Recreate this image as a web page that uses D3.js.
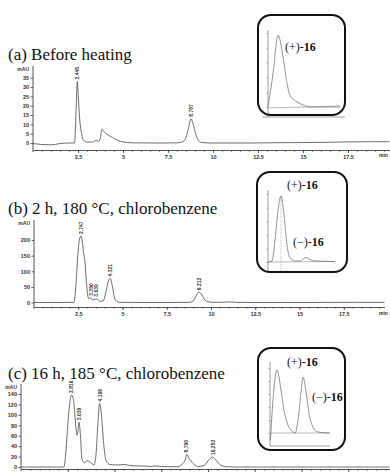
<!DOCTYPE html>
<html><head><meta charset="utf-8">
<script src="https://cdn.jsdelivr.net/npm/d3@7"></script>
<style>body{margin:0;background:#fff}svg{display:block}</style>
</head><body>
<svg id="chart"></svg>
<script>
// ---------- data ----------
const titles = ["(a) Before heating", "(b) 2 h, 180 °C, chlorobenzene", "(c) 16 h, 185 °C, chlorobenzene"];
const xTickValues = [2.5, 5, 7.5, 10, 12.5, 15, 17.5];
const xTickLabels = ["2.5", "5", "7.5", "10", "12.5", "15", "17.5"];
const yTicksA = [0, 5, 10, 15, 20, 25, 30, 35];
const yTicksB = [0, 50, 100, 150, 200];
const yTicksC = [0, 20, 40, 60, 80, 100, 120, 140];
const unitLabel = "mAU";
const timeUnit = "min";

// chromatogram traces: [time (min), signal (mAU)]
const traceA = [[0,-0.3],[0.5,-0.8],[1.0,-1.0],[1.5,-0.3],[2.0,0],[2.3,0],[2.36,8],[2.41,22],[2.46,33],[2.52,24],[2.6,12],[2.7,5],[2.83,1.2],[3.0,0.5],[3.3,0.5],[3.5,1.5],[3.65,0.8],[3.75,3],[3.82,7.3],[3.9,6.5],[4.1,4.8],[4.4,3],[4.7,1.5],[5.0,0.6],[5.5,0.1],[7.0,0],[8.0,0.1],[8.3,0.6],[8.5,3],[8.65,8.5],[8.78,13],[8.9,10],[9.05,4.5],[9.2,1.2],[9.35,0.3],[10.0,0],[12.0,0],[14.0,0.2],[16.0,0.3],[17.5,0.6],[19.0,0.7],[19.8,0.7]];
const traceB = [[0,0],[1,0],[2,0],[2.25,0.5],[2.35,40],[2.45,130],[2.55,195],[2.65,213],[2.72,200],[2.8,160],[2.88,130],[2.95,75],[3.03,25],[3.1,12],[3.2,15],[3.3,8],[3.42,10],[3.52,12],[3.62,8],[3.75,3],[3.9,5],[4.05,30],[4.18,65],[4.3,77],[4.42,55],[4.55,15],[4.7,3],[4.9,0.5],[6,0],[8,0],[8.8,0.5],[9.0,5],[9.15,20],[9.3,33],[9.45,28],[9.6,12],[9.8,3],[10.1,0.5],[10.6,0.5],[11.0,2],[11.4,0.5],[12,0],[14,0],[16,0],[18,0.5],[19.8,0.5]];
const traceC = [[0,0],[1,0],[2,0],[2.3,0],[2.4,30],[2.5,80],[2.6,120],[2.7,138],[2.8,130],[2.88,100],[2.95,70],[3.0,61],[3.05,70],[3.1,86],[3.18,60],[3.26,15],[3.4,8],[3.52,12],[3.65,11],[3.8,6],[3.9,4],[4.0,20],[4.1,75],[4.2,122],[4.3,100],[4.42,45],[4.55,12],[4.75,5],[5.0,4],[5.3,4],[5.5,5],[5.8,3],[6.3,2],[6.6,2],[6.9,1],[7.2,2],[7.5,1],[8.0,0.5],[8.4,0.5],[8.6,5],[8.8,15],[8.85,24],[9.0,16],[9.25,5],[9.5,1],[9.8,3],[10.05,14],[10.25,19],[10.45,12],[10.7,3],[11.0,0.5],[11.5,0],[13,0],[15,0],[17,0],[19.7,0]];

const peakLabelsA = ["2.445", "8.787"];
const peakTimesA = [2.46, 8.78];
const peakLabelsB = ["2.747", "3.350", "3.639", "4.321", "9.212"];
const peakTimesB = [2.65, 3.2, 3.52, 4.3, 9.3];
const peakLabelsC = ["2.816", "3.039", "4.196", "8.790", "10.253"];
const peakTimesC = [2.7, 3.1, 4.2, 8.85, 10.25];

// inset traces (relative time, relative signal %)
const insetTraceA = [[0,0],[0.65,45],[1.3,97],[1.95,68],[2.47,32],[2.86,16],[3.77,6.8],[4.55,2.7],[5.45,0],[9.4,0]];
const insetTraceB = [[0,0],[0.52,1.5],[0.91,32],[1.3,76],[1.69,97],[2.08,69],[2.47,25],[2.86,6],[3.5,1.5],[4.16,1.5],[4.55,4.4],[4.94,6.6],[5.45,3.7],[6.1,1.5],[8.7,0.7]];
const insetTraceC = [[0.06,-11],[0.39,51],[0.91,97],[1.43,66],[1.82,35],[2.34,12],[2.86,3],[3.25,0],[3.64,20],[4.03,63],[4.29,86],[4.68,63],[5.06,31],[5.58,9],[6.23,1.5],[7.79,0]];
const insetLabelsA = [["(+)-", "16"]];
const insetLabelsB = [["(+)-", "16"], ["(\u2212)-", "16"]];
const insetLabelsC = [["(+)-", "16"], ["(\u2212)-", "16"]];

// ---------- drawing ----------
const W = 390, H = 473;
const svg = d3.select("#chart").attr("width", W).attr("height", H);
svg.append("rect").attr("width", W).attr("height", H).attr("fill", "#fff");
const ink = "#3c3c3c", trace = "#484848";
const serif = "'Liberation Serif','Times New Roman',serif";
const sans = "'Liberation Sans',Arial,sans-serif";

const panels = [
  {title: titles[0], titleY: 60, data: traceA, x0: 33, pxPerMin: 18, tMax: 19.8, yTicks: yTicksA, yMax: 35, yZero: 143, yTopTick: 77.7,
   axisY: 150, axisTop: 66, mauY: 71, xLabels: true, xLabelY: 157, labels: peakLabelsA, times: peakTimesA},
  {title: titles[1], titleY: 214, data: traceB, x0: 34, pxPerMin: 17.7, tMax: 19.8, yTicks: yTicksB, yMax: 200, yZero: 302.5, yTopTick: 240,
   axisY: 307, axisTop: 220, mauY: 225, xLabels: true, xLabelY: 315, labels: peakLabelsB, times: peakTimesB},
  {title: titles[2], titleY: 379, data: traceC, x0: 21, pxPerMin: 18.7, tMax: 19.7, yTicks: yTicksC, yMax: 140, yZero: 467, yTopTick: 394,
   axisY: 469, axisTop: 384, mauY: 389, xLabels: false, xLabelY: 480, labels: peakLabelsC, times: peakTimesC}
];

panels.forEach(p => {
  const g = svg.append("g");
  const x = d3.scaleLinear().domain([0, p.tMax]).range([p.x0, p.x0 + p.pxPerMin * p.tMax]);
  const y = d3.scaleLinear().domain([0, p.yMax]).range([p.yZero, p.yTopTick]);

  g.append("text").attr("x", 8).attr("y", p.titleY).attr("font-family", serif).attr("font-size", 17)
    .attr("fill", "#111").text(p.title);

  // y axis
  const ya = g.append("g").attr("transform", `translate(${p.x0},0)`)
    .call(d3.axisLeft(y).tickValues(p.yTicks).tickSize(2.5).tickPadding(1.5).tickSizeOuter(0));
  ya.select(".domain").remove();
  ya.selectAll("line").attr("stroke", ink).attr("stroke-width", 0.8);
  ya.selectAll("text").attr("font-family", sans).attr("font-size", 5.5).attr("font-weight", "bold").attr("fill", "#333");
  g.append("line").attr("x1", p.x0).attr("x2", p.x0).attr("y1", p.axisTop).attr("y2", p.axisY + 2)
    .attr("stroke", ink).attr("stroke-width", 0.9);
  g.append("text").attr("x", p.x0 - 4).attr("y", p.mauY).attr("text-anchor", "end").attr("font-family", sans)
    .attr("font-size", 5).attr("font-weight", "bold").attr("fill", "#333").text(unitLabel);

  // x axis
  const xa = g.append("g").attr("transform", `translate(0,${p.axisY})`)
    .call(d3.axisBottom(x).tickValues(xTickValues).tickFormat((d, i) => p.xLabels ? xTickLabels[i] : "").tickSize(3).tickPadding(2).tickSizeOuter(0));
  xa.select(".domain").attr("stroke", ink).attr("stroke-width", 0.9);
  xa.selectAll("line").attr("stroke", ink).attr("stroke-width", 0.8);
  xa.selectAll("text").attr("font-family", sans).attr("font-size", 5.5).attr("font-weight", "bold").attr("fill", "#333");
  const minor = g.append("g").attr("transform", `translate(0,${p.axisY})`)
    .call(d3.axisBottom(x).tickValues(d3.range(0.5, p.tMax, 0.5)).tickFormat("").tickSize(1.8).tickSizeOuter(0));
  minor.select(".domain").remove();
  minor.selectAll("line").attr("stroke", ink).attr("stroke-width", 0.6);
  if (p.xLabels) {
    g.append("text").attr("x", 379).attr("y", p.xLabelY).attr("font-family", sans).attr("font-size", 5)
      .attr("font-weight", "bold").attr("fill", "#333").text(timeUnit);
  }

  // trace
  const line = d3.line().x(d => x(d[0])).y(d => y(d[1])).curve(d3.curveMonotoneX);
  g.append("path").datum(p.data).attr("d", line).attr("fill", "none").attr("stroke", trace).attr("stroke-width", 0.8);

  // peak labels
  p.labels.forEach((lab, i) => {
    const t = p.times[i];
    const near = p.data.filter(d => Math.abs(d[0] - t) < 0.12);
    const v = d3.max(near, d => d[1]);
    const px = x(t) + 2, py = y(v) - 2;
    g.append("text").attr("transform", `translate(${px},${py}) rotate(-90)`).attr("font-family", sans)
      .attr("font-size", 5).attr("font-weight", "bold").attr("fill", "#333").text(lab);
  });
});

// insets
const insets = [
  {box: [258, 15, 87, 100], data: insetTraceA, xr: [268, 345], yr: [107, 33], yAxis: [268, 30, 117], xAxis: [117, 262, 345],
   base: [268, 108, 340, 106], labels: insetLabelsA, labelPos: [[285, 51]]},
  {box: [257, 172, 90, 100], data: insetTraceB, xr: [268, 345], yr: [262, 194], yAxis: [268, 190, 272], xAxis: null,
   base: [268, 262, 335, 261.5], labels: insetLabelsB, labelPos: [[287, 189], [293, 246]], dotted: [1.69]},
  {box: [258, 348, 87, 102], data: insetTraceC, xr: [270, 347], yr: [433, 368], yAxis: [270, 362, 446], xAxis: [446, 270, 330],
   base: [270, 433, 330, 433], labels: insetLabelsC, labelPos: [[287, 366], [312, 401]]}
];
insets.forEach(s => {
  const g = svg.append("g");
  const x = d3.scaleLinear().domain([0, 10]).range(s.xr);
  const y = d3.scaleLinear().domain([0, 100]).range(s.yr);
  g.append("line").attr("x1", s.yAxis[0]).attr("x2", s.yAxis[0]).attr("y1", s.yAxis[1]).attr("y2", s.yAxis[2])
    .attr("stroke", "#777").attr("stroke-width", 0.7);
  const yt = g.append("g").attr("transform", `translate(${s.yAxis[0]},0)`)
    .call(d3.axisLeft(y).ticks(6).tickFormat("").tickSize(1.5).tickSizeOuter(0));
  yt.select(".domain").remove();
  yt.selectAll("line").attr("stroke", "#777").attr("stroke-width", 0.6);
  if (s.xAxis) {
    g.append("line").attr("x1", s.xAxis[1]).attr("x2", s.xAxis[2]).attr("y1", s.xAxis[0]).attr("y2", s.xAxis[0])
      .attr("stroke", "#777").attr("stroke-width", 0.7);
  }
  g.append("line").attr("x1", s.base[0]).attr("y1", s.base[1]).attr("x2", s.base[2]).attr("y2", s.base[3])
    .attr("stroke", "#888").attr("stroke-width", 0.6);
  if (s.dotted) s.dotted.forEach(t => g.append("line").attr("x1", x(t)).attr("x2", x(t)).attr("y1", y(97)).attr("y2", s.box[1] + s.box[3] + 2)
    .attr("stroke", "#888").attr("stroke-width", 0.6).attr("stroke-dasharray", "1,1"));
  const line = d3.line().x(d => x(d[0])).y(d => y(d[1])).curve(d3.curveMonotoneX);
  g.append("path").datum(s.data).attr("d", line).attr("fill", "none").attr("stroke", "#666").attr("stroke-width", 0.7);
  g.append("rect").attr("x", s.box[0]).attr("y", s.box[1]).attr("width", s.box[2]).attr("height", s.box[3])
    .attr("rx", 13).attr("fill", "none").attr("stroke", "#111").attr("stroke-width", 2);
  s.labels.forEach((lab, i) => {
    const t = g.append("text").attr("x", s.labelPos[i][0]).attr("y", s.labelPos[i][1]).attr("font-family", serif)
      .attr("font-size", 12).attr("fill", "#111");
    t.append("tspan").text(lab[0]);
    t.append("tspan").attr("font-weight", "bold").text(lab[1]);
  });
});
</script>
</body></html>
